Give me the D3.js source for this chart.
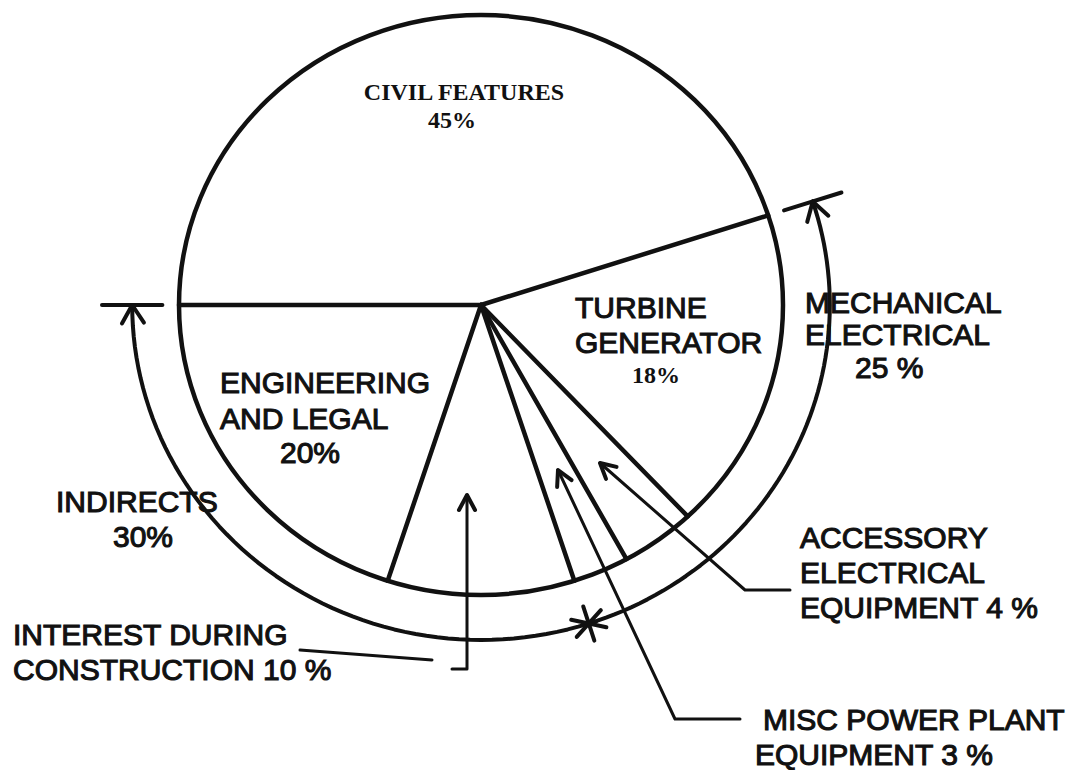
<!DOCTYPE html>
<html>
<head>
<meta charset="utf-8">
<script src="https://cdn.jsdelivr.net/npm/d3@7"></script>
<style>
    body { margin: 0; background: #fff; }
    svg { display: block; }
    .ink { stroke: #111; fill: none; stroke-linecap: round; stroke-linejoin: round; }
    .sans { font-family: "Liberation Sans", Arial, sans-serif; font-size: 30px; fill: #111; stroke: #111; stroke-width: 1.1px; }
    .serif { font-family: "Liberation Serif", "Times New Roman", serif; font-size: 24px; font-weight: bold; fill: #111; }
</style>
</head>
<body>
<svg width="1084" height="770"></svg>
<script>
// cost shares of the plant (percent), in drawing order clockwise from 9 o'clock
const items = ['CIVIL FEATURES', 'TURBINE GENERATOR', 'ACCESSORY ELECTRICAL EQUIPMENT',
               'MISC POWER PLANT EQUIPMENT', 'INTEREST DURING CONSTRUCTION', 'ENGINEERING AND LEGAL'];
const shares = [45, 18, 4, 3, 10, 20];
// the two outer brackets: name, total, first and last item index
const groups = ['MECHANICAL ELECTRICAL', 'INDIRECTS'];
const groupShares = [25, 30];
const groupSpan = [[1, 3], [4, 5]];

// label text, line by line
const labelLines = {
    'CIVIL FEATURES': ['CIVIL FEATURES', shares[0] + '%'],
    'TURBINE GENERATOR': ['TURBINE', 'GENERATOR', shares[1] + '%'],
    'ACCESSORY ELECTRICAL EQUIPMENT': ['ACCESSORY', 'ELECTRICAL', 'EQUIPMENT ' + shares[2] + ' %'],
    'MISC POWER PLANT EQUIPMENT': ['MISC POWER PLANT', 'EQUIPMENT ' + shares[3] + ' %'],
    'INTEREST DURING CONSTRUCTION': ['INTEREST DURING', 'CONSTRUCTION ' + shares[4] + ' %'],
    'ENGINEERING AND LEGAL': ['ENGINEERING', 'AND LEGAL', shares[5] + '%'],
    'MECHANICAL ELECTRICAL': ['MECHANICAL', 'ELECTRICAL', groupShares[0] + ' %'],
    'INDIRECTS': ['INDIRECTS', groupShares[1] + '%']
};

// where each text line sits (layout only)
const labelPos = {
    'CIVIL FEATURES': [[464, 100, 'middle', 'serif'], [452, 128, 'middle', 'serif']],
    'TURBINE GENERATOR': [[575, 318, 'start', 'sans'], [575, 353, 'start', 'sans'], [632, 383, 'start', 'serif']],
    'ACCESSORY ELECTRICAL EQUIPMENT': [[800, 548, 'start', 'sans'], [800, 583, 'start', 'sans'], [800, 618, 'start', 'sans']],
    'MISC POWER PLANT EQUIPMENT': [[763, 730, 'start', 'sans'], [755, 765, 'start', 'sans']],
    'INTEREST DURING CONSTRUCTION': [[13, 645, 'start', 'sans'], [13, 680, 'start', 'sans']],
    'ENGINEERING AND LEGAL': [[220, 393, 'start', 'sans'], [220, 429, 'start', 'sans'], [280, 463, 'start', 'sans']],
    'MECHANICAL ELECTRICAL': [[805, 313, 'start', 'sans'], [805, 345, 'start', 'sans'], [855, 378, 'start', 'sans']],
    'INDIRECTS': [[56, 512, 'start', 'sans'], [113, 547, 'start', 'sans']]
};

// leader lines for the small slices: polyline ending in an arrow tip
const leaders = [
    [[790, 590], [745, 590], [600, 463]],
    [[740, 719], [675, 719], [558, 470]],
    [[452, 669], [467, 669], [467, 495]]
];
const plainLeaders = [
    [[300, 650], [432, 660]]
];

let svg = d3.select('svg');
let cx = 481, cy = 305, rx = 302, ry = 290, kOut = 1.155;

// point on the (slightly squashed) circle at pie angle a, radius factor k
function pt(a, k) {
    return [cx + k * rx * Math.sin(a), cy - k * ry * Math.cos(a)];
}

let arcs = d3.pie().sort(null)
    .startAngle(-Math.PI / 2)
    .endAngle(Math.PI * 1.5)(shares);

let line = d3.line();

// outline
svg.append('ellipse')
    .attr('class', 'ink')
    .attr('cx', cx).attr('cy', cy)
    .attr('rx', rx).attr('ry', ry)
    .attr('stroke-width', 4.5);

// slice boundaries
svg.append('g').selectAll('line').data(arcs).enter().append('line')
    .attr('class', 'ink')
    .attr('stroke-width', 4.5)
    .attr('x1', cx).attr('y1', cy)
    .attr('x2', d => pt(d.startAngle, 1)[0])
    .attr('y2', d => pt(d.startAngle, 1)[1]);

function arrowHead(g, tip, from, len, width) {
    let dx = tip[0] - from[0], dy = tip[1] - from[1];
    let n = Math.hypot(dx, dy);
    dx /= n; dy /= n;
    let b = [tip[0] - dx * len, tip[1] - dy * len];
    let l = [b[0] - dy * width, b[1] + dx * width];
    let r = [b[0] + dy * width, b[1] - dx * width];
    g.append('path')
        .attr('class', 'ink')
        .attr('stroke-width', 4)
        .attr('d', line([l, tip, r]));
}

// outer brackets
let outer = svg.append('g');
groupSpan.forEach((s, gi) => {
    let a0 = arcs[s[0]].startAngle, a1 = arcs[s[1]].endAngle;
    let pts = d3.range(0, 61).map(i => pt(a0 + (a1 - a0) * i / 60, kOut));
    outer.append('path')
        .attr('class', 'ink')
        .attr('stroke-width', 4)
        .attr('d', line(pts));
});

// arrow ends with cross ticks at the outer extremes
let ends = [
    [arcs[groupSpan[0][0]].startAngle, 1],
    [arcs[groupSpan[1][1]].endAngle, -1]
];
ends.forEach(([a, dir]) => {
    let tip = pt(a, kOut);
    let back = pt(a + dir * 0.08, kOut);
    arrowHead(outer, tip, back, 18, 11);
    let t0 = pt(a, kOut - 0.1), t1 = pt(a, kOut + 0.1);
    outer.append('line')
        .attr('class', 'ink')
        .attr('stroke-width', 4)
        .attr('x1', t0[0]).attr('y1', t0[1])
        .attr('x2', t1[0]).attr('y2', t1[1]);
});

// star where the two brackets meet
let starA = arcs[groupSpan[0][1]].endAngle;
let sc = pt(starA, kOut);
d3.range(3).forEach(i => {
    let th = starA + Math.PI / 2 + i * Math.PI / 3;
    let ux = Math.cos(th) * 18, uy = Math.sin(th) * 18;
    outer.append('line')
        .attr('class', 'ink')
        .attr('stroke-width', 4)
        .attr('x1', sc[0] - ux).attr('y1', sc[1] - uy)
        .attr('x2', sc[0] + ux).attr('y2', sc[1] + uy);
});

// leaders
let lead = svg.append('g');
leaders.forEach(p => {
    lead.append('path')
        .attr('class', 'ink')
        .attr('stroke-width', 3)
        .attr('d', line(p));
    arrowHead(lead, p[p.length - 1], p[p.length - 2], 15, 8);
});
plainLeaders.forEach(p => {
    lead.append('path')
        .attr('class', 'ink')
        .attr('stroke-width', 3)
        .attr('d', line(p));
});

// labels
let names = items.concat(groups);
let labels = svg.append('g');
names.forEach(name => {
    labelLines[name].forEach((txt, i) => {
        let p = labelPos[name][i];
        labels.append('text')
            .attr('class', p[3])
            .attr('x', p[0]).attr('y', p[1])
            .attr('text-anchor', p[2])
            .text(txt);
    });
});
</script>
</body>
</html>
